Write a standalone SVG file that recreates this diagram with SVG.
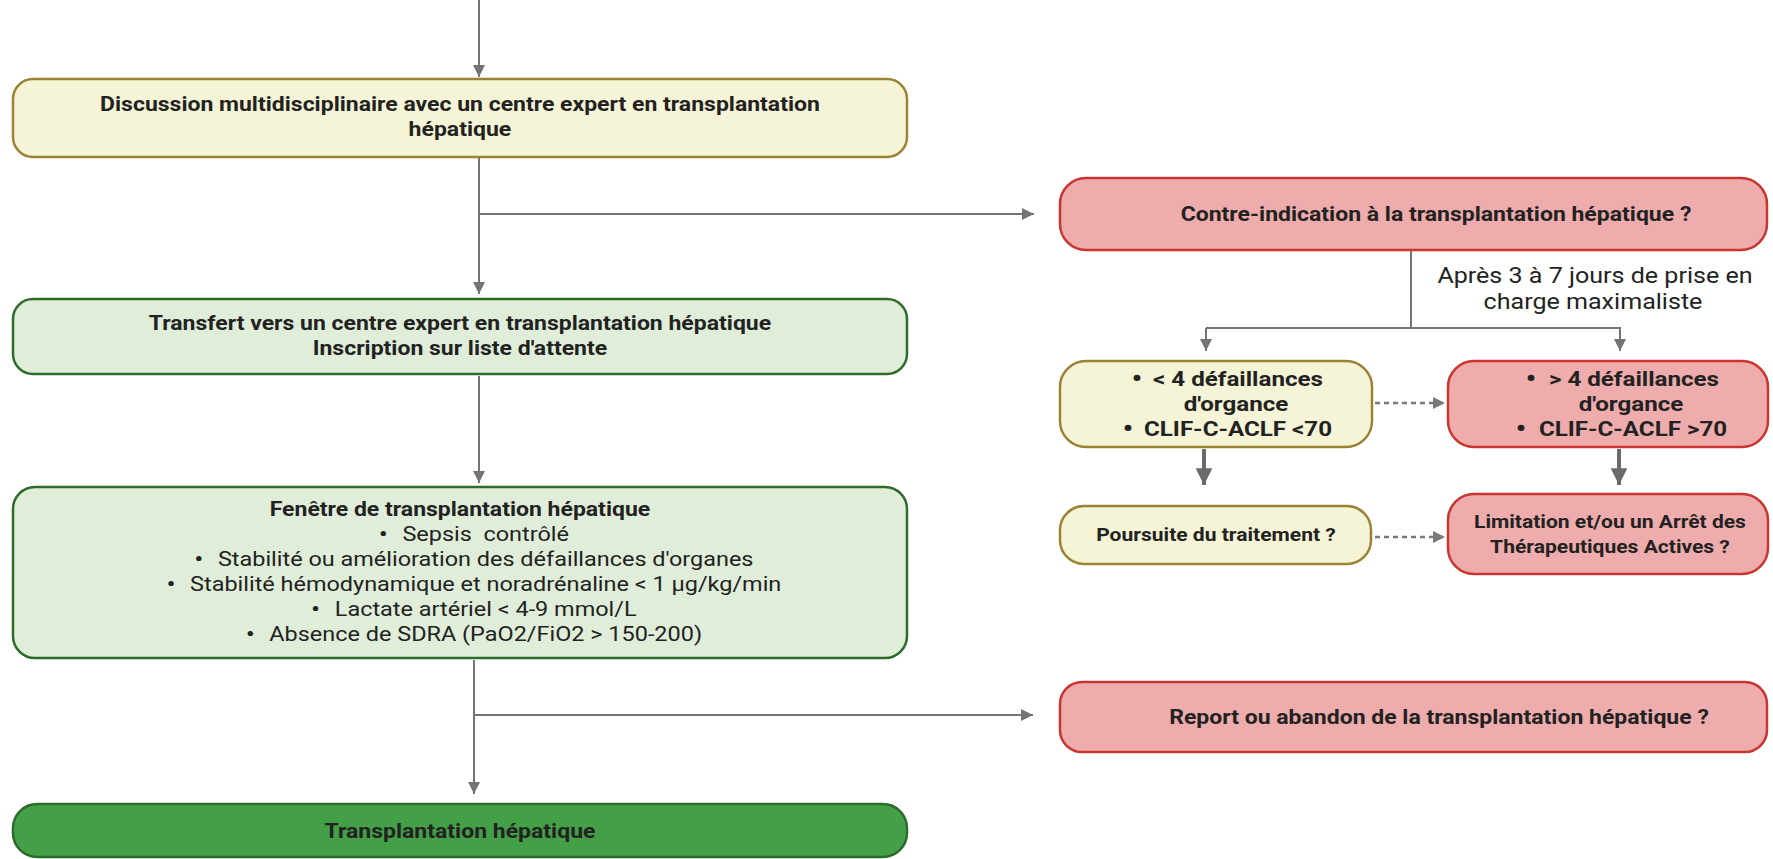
<svg xmlns="http://www.w3.org/2000/svg" width="1773" height="859" viewBox="0 0 1773 859">
  <defs>
    <style>
      .yel { fill: #f5f4d6; stroke: #9c8234; stroke-width: 2.5; }
      .lgr { fill: #e0eed9; stroke: #2f6b2b; stroke-width: 2.5; }
      .dgr { fill: #43a047; stroke: #2c6b2c; stroke-width: 2.5; }
      .red { fill: #efacac; stroke: #c9352f; stroke-width: 2.5; }
      text { font-family: Roboto, "Liberation Sans", sans-serif; fill: #222222; text-anchor: middle;
             transform-box: fill-box; transform-origin: center; transform: scaleX(1.15); }
      .b { font-weight: bold; font-size: 20px; }
      .bl { font-size: 21px; }
      .bs { font-size: 18.3px; }
      .r { font-size: 20.4px; }
      .lbl { font-size: 21.8px; }
      .bu { font-weight: bold; font-size: 25px; }
      .bi { font-weight: bold; }
      .ln { fill: none; stroke: #747474; stroke-width: 2; }
      .thick { fill: none; stroke: #6a6a6a; stroke-width: 4; }
      .dot { fill: none; stroke: #7a7a7a; stroke-width: 2.5; stroke-dasharray: 5 4; }
    </style>
    <marker id="ah" viewBox="0 0 10 10" refX="10" refY="5" markerWidth="6" markerHeight="6" markerUnits="strokeWidth" orient="auto">
      <path d="M0,0 L10,5 L0,10 z" fill="#747474"/>
    </marker>
    <marker id="ahb" viewBox="0 0 10 10" refX="10" refY="5" markerWidth="4.5" markerHeight="4.2" markerUnits="strokeWidth" orient="auto">
      <path d="M0,0 L10,5 L0,10 z" fill="#6a6a6a"/>
    </marker>
    <marker id="ahd" viewBox="0 0 10 10" refX="10" refY="5" markerWidth="5" markerHeight="6" markerUnits="strokeWidth" orient="auto">
      <path d="M0,0 L10,5 L0,10 z" fill="#7a7a7a"/>
    </marker>
  </defs>

  <!-- connectors -->
  <g id="connectors">
    <line class="ln" x1="479" y1="0" x2="479" y2="77" marker-end="url(#ah)"/>
    <line class="ln" x1="479" y1="158" x2="479" y2="294" marker-end="url(#ah)"/>
    <line class="ln" x1="479" y1="214" x2="1034" y2="214" marker-end="url(#ah)"/>
    <line class="ln" x1="479" y1="376" x2="479" y2="483" marker-end="url(#ah)"/>
    <line class="ln" x1="474" y1="660" x2="474" y2="794" marker-end="url(#ah)"/>
    <line class="ln" x1="474" y1="715" x2="1033" y2="715" marker-end="url(#ah)"/>
    <polyline class="ln" points="1411,251 1411,328"/>
    <polyline class="ln" points="1206,328 1620,328 1620,351" marker-end="url(#ah)"/>
    <line class="ln" x1="1206" y1="328" x2="1206" y2="351" marker-end="url(#ah)"/>
    <line class="thick" x1="1204" y1="449" x2="1204" y2="485" marker-end="url(#ahb)"/>
    <line class="thick" x1="1619" y1="449" x2="1619" y2="485" marker-end="url(#ahb)"/>
    <line class="dot" x1="1375" y1="403" x2="1445" y2="403" marker-end="url(#ahd)"/>
    <line class="dot" x1="1375" y1="537" x2="1445" y2="537" marker-end="url(#ahd)"/>
  </g>

  <!-- left column -->
  <g id="discussion">
    <rect class="yel" x="13" y="79" width="894" height="78" rx="20"/>
    <text class="b" x="460" y="111">Discussion multidisciplinaire avec un centre expert en transplantation</text>
    <text class="b" x="460" y="136">hépatique</text>
  </g>

  <g id="transfert">
    <rect class="lgr" x="13" y="299" width="894" height="75" rx="20"/>
    <text class="b" x="460" y="330">Transfert vers un centre expert en transplantation hépatique</text>
    <text class="b" x="460" y="355">Inscription sur liste d'attente</text>
  </g>

  <g id="fenetre">
    <rect class="lgr" x="13" y="487" width="894" height="171" rx="22"/>
    <text class="b" x="460" y="516">Fenêtre de transplantation hépatique</text>
    <text class="r" x="474" y="541"><tspan class="bi">•</tspan><tspan dx="13">Sepsis&#160; contrôlé</tspan></text>
    <text class="r" x="474" y="566"><tspan class="bi">•</tspan><tspan dx="13">Stabilité ou amélioration des défaillances d'organes</tspan></text>
    <text class="r" x="474" y="591"><tspan class="bi">•</tspan><tspan dx="13">Stabilité hémodynamique et noradrénaline &lt; 1 µg/kg/min</tspan></text>
    <text class="r" x="474" y="616"><tspan class="bi">•</tspan><tspan dx="13">Lactate artériel &lt; 4-9 mmol/L</tspan></text>
    <text class="r" x="474" y="641"><tspan class="bi">•</tspan><tspan dx="13">Absence de SDRA (PaO2/FiO2 &gt; 150-200)</tspan></text>
  </g>

  <g id="transplantation">
    <rect class="dgr" x="13" y="804" width="894" height="53" rx="24"/>
    <text class="b" x="460" y="838">Transplantation hépatique</text>
  </g>

  <!-- right column -->
  <g id="contre-indication">
    <rect class="red" x="1060" y="178" width="707" height="72" rx="26"/>
    <text class="b" x="1436" y="221">Contre-indication à la transplantation hépatique ?</text>
  </g>

  <g id="delai">
    <text class="lbl" x="1595" y="283">Après 3 à 7 jours de prise en</text>
    <text class="lbl" x="1593" y="309">charge maximaliste</text>
  </g>

  <g id="moins-4">
    <rect class="yel" x="1060" y="361" width="312" height="86" rx="26"/>
    <text class="bu" x="1137" y="387">•</text>
    <text class="b bl" x="1238" y="386">&lt; 4 défaillances</text>
    <text class="b bl" x="1236" y="411">d'organce</text>
    <text class="bu" x="1128" y="437">•</text>
    <text class="b bl" x="1238" y="436">CLIF-C-ACLF &lt;70</text>
  </g>

  <g id="plus-4">
    <rect class="red" x="1448" y="361" width="320" height="86" rx="26"/>
    <text class="bu" x="1531" y="387">•</text>
    <text class="b bl" x="1634" y="386">&gt; 4 défaillances</text>
    <text class="b bl" x="1631" y="411">d'organce</text>
    <text class="bu" x="1521" y="437">•</text>
    <text class="b bl" x="1633" y="436">CLIF-C-ACLF &gt;70</text>
  </g>

  <g id="poursuite">
    <rect class="yel" x="1060" y="506" width="311" height="58" rx="24"/>
    <text class="b bs" x="1216" y="541">Poursuite du traitement ?</text>
  </g>

  <g id="limitation">
    <rect class="red" x="1448" y="494" width="320" height="80" rx="26"/>
    <text class="b bs" x="1610" y="528">Limitation et/ou un Arrêt des</text>
    <text class="b bs" x="1610" y="553">Thérapeutiques Actives ?</text>
  </g>

  <g id="report">
    <rect class="red" x="1060" y="682" width="707" height="70" rx="22"/>
    <text class="b" x="1439" y="724">Report ou abandon de la transplantation hépatique ?</text>
  </g>
</svg>
